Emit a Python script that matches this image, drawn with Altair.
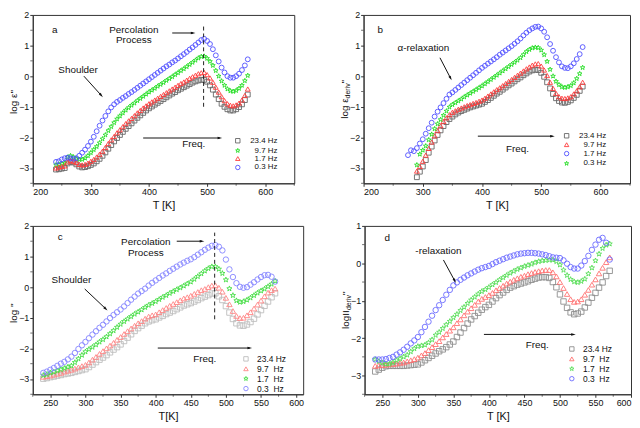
import math
import altair as alt
import pandas as pd

FONT = "Liberation Sans"
STAR = ("M0,-1L0.235,-0.324L0.951,-0.309L0.380,0.124L0.588,0.809L0,0.4"
        "L-0.588,0.809L-0.380,0.124L-0.951,-0.309L-0.235,-0.324Z")
ARROW = "M0,-1L0.55,1L-0.55,1Z"

# ---------------- panel a ----------------
T_a = list(range(240, 575, 5))
a_sq = [-3.05, -3.04, -3.02, -3.00, -2.85, -2.80, -2.82, -2.88, -2.95, -2.98, -2.97, -2.94, -2.90, -2.85, -2.78, -2.70, -2.60, -2.49, -2.37, -2.25, -2.13, -2.02, -1.92, -1.82, -1.72, -1.63, -1.54, -1.45, -1.36, -1.28, -1.20, -1.12, -1.05, -0.99, -0.93, -0.87, -0.81, -0.75, -0.69, -0.63, -0.57, -0.52, -0.46, -0.41, -0.36, -0.31, -0.26, -0.21, -0.17, -0.14, -0.12, -0.12, -0.18, -0.30, -0.44, -0.60, -0.75, -0.90, -1.00, -1.08, -1.12, -1.12, -1.08, -1.01, -0.92, -0.78, -0.60]
a_star = [-2.90, -2.88, -2.86, -2.84, -2.65, -2.60, -2.64, -2.70, -2.72, -2.72, -2.68, -2.60, -2.50, -2.40, -2.30, -2.18, -2.05, -1.92, -1.78, -1.65, -1.52, -1.40, -1.30, -1.20, -1.11, -1.03, -0.95, -0.88, -0.80, -0.73, -0.66, -0.59, -0.52, -0.46, -0.40, -0.33, -0.27, -0.21, -0.14, -0.08, -0.02, 0.05, 0.11, 0.18, 0.24, 0.31, 0.38, 0.45, 0.52, 0.59, 0.64, 0.65, 0.58, 0.48, 0.35, 0.18, 0.00, -0.16, -0.30, -0.42, -0.48, -0.50, -0.47, -0.40, -0.30, -0.15, 0.02]
a_tri = [-3.00, -2.97, -2.95, -2.93, -2.80, -2.75, -2.78, -2.82, -2.88, -2.90, -2.88, -2.84, -2.78, -2.72, -2.64, -2.55, -2.45, -2.33, -2.20, -2.08, -1.97, -1.85, -1.75, -1.65, -1.55, -1.46, -1.38, -1.29, -1.20, -1.12, -1.04, -0.97, -0.90, -0.84, -0.78, -0.72, -0.66, -0.60, -0.54, -0.48, -0.42, -0.36, -0.30, -0.24, -0.19, -0.13, -0.07, -0.02, 0.03, 0.08, 0.11, 0.12, 0.05, -0.06, -0.20, -0.36, -0.52, -0.67, -0.80, -0.90, -0.95, -0.97, -0.94, -0.88, -0.78, -0.63, -0.42]
a_circ = [-2.80, -2.78, -2.72, -2.68, -2.66, -2.68, -2.70, -2.68, -2.60, -2.50, -2.40, -2.28, -2.14, -1.98, -1.80, -1.62, -1.45, -1.30, -1.15, -1.02, -0.92, -0.84, -0.78, -0.71, -0.65, -0.58, -0.52, -0.45, -0.38, -0.31, -0.24, -0.17, -0.10, -0.03, 0.04, 0.11, 0.18, 0.25, 0.32, 0.38, 0.45, 0.51, 0.58, 0.65, 0.72, 0.79, 0.87, 0.94, 1.02, 1.10, 1.18, 1.22, 1.15, 1.05, 0.88, 0.68, 0.48, 0.28, 0.12, 0.00, -0.05, -0.05, 0.00, 0.08, 0.20, 0.35, 0.55]

# ---------------- panel b ----------------
T_b = list(range(275, 575, 5))
N = None
b_sq = [N, N, N, -3.30, -3.12, -2.95, -2.74, -2.50, -2.30, -2.10, -1.92, -1.77, -1.63, -1.50, -1.40, -1.32, -1.25, -1.19, -1.14, -1.10, -1.06, -1.02, -0.99, -0.96, -0.93, -0.90, -0.84, -0.78, -0.71, -0.64, -0.57, -0.51, -0.44, -0.37, -0.30, -0.24, -0.17, -0.10, -0.04, 0.03, 0.09, 0.15, 0.19, 0.21, 0.20, 0.11, -0.02, -0.20, -0.40, -0.58, -0.72, -0.81, -0.86, -0.87, -0.84, -0.79, -0.71, -0.61, -0.48, -0.34]
b_tri = [N, N, N, -3.10, -2.95, -2.78, -2.58, -2.36, -2.15, -1.95, -1.78, -1.62, -1.48, -1.36, -1.26, -1.18, -1.13, -1.08, -1.04, -1.00, -0.96, -0.93, -0.89, -0.86, -0.82, -0.78, -0.72, -0.65, -0.58, -0.51, -0.44, -0.38, -0.31, -0.24, -0.17, -0.11, -0.04, 0.03, 0.10, 0.17, 0.24, 0.30, 0.36, 0.40, 0.41, 0.33, 0.20, 0.02, -0.20, -0.40, -0.56, -0.67, -0.72, -0.73, -0.71, -0.67, -0.58, -0.48, -0.35, -0.20]
b_circ = [-2.58, -2.42, -2.45, -2.35, -2.20, -2.06, -1.88, -1.70, -1.52, -1.32, -1.16, -1.02, -0.88, -0.74, -0.60, -0.53, -0.45, -0.37, -0.29, -0.21, -0.13, -0.05, 0.03, 0.11, 0.19, 0.27, 0.34, 0.41, 0.48, 0.55, 0.62, 0.70, 0.77, 0.84, 0.91, 0.98, 1.06, 1.14, 1.23, 1.33, 1.42, 1.50, 1.56, 1.61, 1.62, 1.56, 1.45, 1.27, 1.05, 0.83, 0.62, 0.45, 0.32, 0.27, 0.26, 0.32, 0.42, 0.56, 0.72, 0.95]
b_star = [N, N, N, -2.90, -2.55, -2.42, -2.28, -2.08, -1.90, -1.72, -1.56, -1.42, -1.28, -1.14, -1.01, -0.93, -0.87, -0.81, -0.75, -0.68, -0.62, -0.56, -0.50, -0.44, -0.38, -0.32, -0.25, -0.18, -0.11, -0.04, 0.03, 0.10, 0.17, 0.24, 0.31, 0.38, 0.45, 0.52, 0.60, 0.70, 0.80, 0.87, 0.92, 0.94, 0.93, 0.85, 0.70, 0.48, 0.22, 0.00, -0.17, -0.28, -0.35, -0.37, -0.35, -0.31, -0.22, -0.08, 0.08, 0.28]

# ---------------- panel c ----------------
T_c = list(range(240, 575, 5))
c_sq = [-2.99, -2.97, -2.94, -2.92, -2.89, -2.87, -2.84, -2.82, -2.80, -2.77, -2.74, -2.71, -2.68, -2.61, -2.53, -2.45, -2.37, -2.30, -2.22, -2.13, -2.04, -1.96, -1.87, -1.76, -1.65, -1.54, -1.43, -1.34, -1.26, -1.18, -1.12, -1.08, -1.05, -0.99, -0.94, -0.88, -0.83, -0.78, -0.72, -0.66, -0.60, -0.56, -0.52, -0.47, -0.42, -0.36, -0.31, -0.26, -0.21, -0.20, -0.30, -0.42, -0.62, -0.83, -1.04, -1.18, -1.25, -1.26, -1.22, -1.14, -1.03, -0.89, -0.75, -0.61, -0.47, -0.33, -0.20]
c_tri = [-2.93, -2.91, -2.89, -2.86, -2.83, -2.80, -2.76, -2.73, -2.70, -2.66, -2.62, -2.58, -2.54, -2.46, -2.37, -2.28, -2.18, -2.09, -2.00, -1.91, -1.82, -1.72, -1.63, -1.53, -1.44, -1.35, -1.26, -1.18, -1.11, -1.03, -0.96, -0.92, -0.89, -0.82, -0.75, -0.68, -0.61, -0.55, -0.49, -0.43, -0.37, -0.33, -0.28, -0.22, -0.16, -0.10, -0.06, 0.00, 0.05, 0.06, -0.02, -0.15, -0.35, -0.56, -0.78, -0.94, -1.01, -1.00, -0.92, -0.82, -0.70, -0.57, -0.44, -0.30, -0.18, -0.10, -0.05]
c_star = [-2.88, -2.85, -2.80, -2.77, -2.73, -2.69, -2.65, -2.61, -2.57, -2.46, -2.34, -2.22, -2.11, -2.03, -1.96, -1.88, -1.79, -1.71, -1.62, -1.52, -1.42, -1.31, -1.21, -1.12, -1.04, -0.96, -0.88, -0.81, -0.74, -0.66, -0.59, -0.53, -0.47, -0.40, -0.33, -0.27, -0.20, -0.14, -0.08, -0.02, 0.04, 0.11, 0.17, 0.26, 0.35, 0.44, 0.53, 0.61, 0.67, 0.67, 0.59, 0.45, 0.24, -0.05, -0.27, -0.44, -0.49, -0.47, -0.42, -0.35, -0.27, -0.19, -0.12, -0.06, 0.02, 0.10, 0.20]
c_circ = [-2.80, -2.76, -2.70, -2.64, -2.57, -2.50, -2.44, -2.36, -2.27, -2.15, -2.02, -1.90, -1.79, -1.67, -1.55, -1.44, -1.33, -1.23, -1.12, -1.01, -0.91, -0.82, -0.73, -0.63, -0.52, -0.41, -0.31, -0.21, -0.13, -0.05, 0.05, 0.14, 0.22, 0.30, 0.38, 0.45, 0.53, 0.60, 0.67, 0.74, 0.80, 0.86, 0.91, 0.98, 1.06, 1.14, 1.22, 1.29, 1.35, 1.37, 1.32, 1.20, 0.90, 0.58, 0.33, 0.13, 0.01, -0.02, 0.00, 0.08, 0.16, 0.25, 0.33, 0.39, 0.40, 0.34, 0.18]

# ---------------- panel d ----------------
T_d = list(range(240, 575, 5))
d_sq = [-2.89, -2.84, -2.79, -2.75, -2.74, -2.74, -2.74, -2.74, -2.74, -2.73, -2.72, -2.71, -2.70, -2.65, -2.59, -2.53, -2.47, -2.41, -2.35, -2.30, -2.24, -2.17, -2.09, -1.97, -1.85, -1.73, -1.61, -1.50, -1.41, -1.32, -1.24, -1.17, -1.11, -1.02, -0.93, -0.85, -0.78, -0.71, -0.65, -0.61, -0.57, -0.54, -0.51, -0.48, -0.44, -0.41, -0.38, -0.37, -0.37, -0.39, -0.50, -0.64, -0.83, -1.02, -1.19, -1.31, -1.36, -1.34, -1.29, -1.18, -1.05, -0.92, -0.79, -0.65, -0.51, -0.34, -0.20]
d_tri = [-2.74, -2.73, -2.72, -2.71, -2.70, -2.69, -2.68, -2.66, -2.65, -2.62, -2.59, -2.56, -2.52, -2.46, -2.40, -2.32, -2.24, -2.16, -2.08, -1.98, -1.89, -1.80, -1.71, -1.60, -1.50, -1.39, -1.29, -1.20, -1.11, -1.02, -0.95, -0.90, -0.85, -0.79, -0.72, -0.66, -0.60, -0.54, -0.49, -0.44, -0.40, -0.36, -0.33, -0.29, -0.26, -0.23, -0.21, -0.19, -0.18, -0.18, -0.24, -0.35, -0.50, -0.66, -0.82, -0.96, -1.03, -1.02, -0.96, -0.84, -0.71, -0.57, -0.43, -0.27, -0.12, 0.03, 0.16]
d_star = [-2.57, -2.62, -2.66, -2.69, -2.69, -2.65, -2.59, -2.55, -2.50, -2.45, -2.36, -2.28, -2.22, -2.20, -2.18, -2.12, -2.04, -1.92, -1.84, -1.74, -1.64, -1.55, -1.45, -1.36, -1.26, -1.17, -1.07, -0.98, -0.90, -0.82, -0.75, -0.70, -0.64, -0.57, -0.51, -0.44, -0.38, -0.32, -0.26, -0.21, -0.16, -0.12, -0.08, -0.05, -0.02, 0.02, 0.05, 0.07, 0.08, 0.09, 0.09, 0.05, -0.04, -0.18, -0.32, -0.43, -0.49, -0.51, -0.48, -0.42, -0.28, -0.12, 0.07, 0.25, 0.40, 0.49, 0.52]
d_circ = [-2.57, -2.57, -2.57, -2.56, -2.53, -2.50, -2.44, -2.38, -2.31, -2.23, -2.14, -2.06, -1.97, -1.84, -1.70, -1.56, -1.40, -1.25, -1.12, -0.98, -0.84, -0.71, -0.59, -0.51, -0.44, -0.38, -0.32, -0.27, -0.22, -0.17, -0.13, -0.10, -0.07, -0.02, 0.03, 0.07, 0.11, 0.15, 0.18, 0.21, 0.24, 0.26, 0.27, 0.28, 0.28, 0.27, 0.26, 0.24, 0.22, 0.19, 0.16, 0.15, 0.14, 0.08, -0.01, -0.10, -0.14, -0.14, -0.06, 0.06, 0.20, 0.36, 0.50, 0.63, 0.68, 0.55, 0.10]

# legend labels (legend order) per panel
leg_a = ["23.4 Hz", "9.7 Hz", "1.7 Hz", "0.3 Hz"]
leg_b = ["23.4 Hz", "9.7 Hz", "1.7 Hz", "0.3 Hz"]
NB = "\u00a0"
leg_cd = ["23.4 Hz", "9.7" + NB * 2 + "Hz", "1.7" + NB * 2 + "Hz", "0.3" + NB * 2 + "Hz"]

# axis tick values (major labelled, minor unlabelled)
xt_ab = [200, 300, 400, 500, 600]
xm_ab = [250, 350, 450, 550, 650]
xt_cd = [250, 300, 350, 400, 450, 500, 550, 600]
xm_c = [225, 275, 325, 375, 425, 475, 525, 575]
xm_d = [225, 275, 325, 375, 425, 475, 525, 575]
yt_abc = [-3, -2, -1, 0, 1, 2]
ym_abc = [-3.5, -2.5, -1.5, -0.5, 0.5, 1.5]
yt_d = [-3, -2, -1, 0, 1]
ym_d = [-3.5, -2.5, -1.5, -0.5, 0.5]


def panel(key, T, series, labels, colors, shapes, xdom, xvals, xminor, ydom, yvals, yminor,
          W, H, leg, xtitle, ytitle, texts, arrows, dashed=None, msize=24):
    fx, fy, ff = "T" + key, "v" + key, "f" + key
    rows = []
    for lab, vals in zip(labels, series):
        assert len(vals) == len(T), (lab, len(vals), len(T))
        for t, v in zip(T, vals):
            if v is not None:
                rows.append({fx: t, fy: v, ff: lab})
    df = pd.DataFrame(rows)
    xs = alt.Scale(domain=xdom, nice=False, zero=False)
    ys = alt.Scale(domain=ydom, nice=False, zero=False)
    xa = alt.Axis(values=xvals, title=xtitle, format="d")
    ya = alt.Axis(values=yvals, title="", format="d")
    legend = alt.Legend(title=None, orient="none", legendX=leg["x"], legendY=leg["y"],
                        labelFontSize=leg.get("fs", 8), symbolSize=20, symbolStrokeWidth=0.9,
                        rowPadding=leg.get("rp", 0), labelAlign=leg.get("align", "left"),
                        labelOffset=leg.get("off", 6), padding=0, labelFont=FONT,
                        labelColor="#111")

    def X(f):
        return alt.X(f + ":Q", scale=xs, axis=xa, title=xtitle)

    def Y(f):
        return alt.Y(f + ":Q", scale=ys, axis=ya, title="")

    pts = alt.Chart(df).mark_point(filled=False, size=msize, strokeWidth=0.9, opacity=1).encode(
        x=X(fx), y=Y(fy),
        color=alt.Color(ff + ":N", scale=alt.Scale(domain=labels, range=colors), legend=legend),
        shape=alt.Shape(ff + ":N", scale=alt.Scale(domain=labels, range=shapes), legend=legend),
    )
    layers = [pts]
    # minor ticks
    layers.append(alt.Chart(pd.DataFrame({fx: xminor})).mark_tick(
        color="#333", thickness=1, size=2.5, orient="vertical").encode(
        x=X(fx), y=alt.value(H + 1.25)))
    layers.append(alt.Chart(pd.DataFrame({fy: yminor})).mark_tick(
        color="#333", thickness=1, size=2.5, orient="horizontal").encode(
        y=Y(fy), x=alt.value(-1.25)))
    if dashed:
        ddf = pd.DataFrame([{fx: dashed[0], fy: dashed[1], "y2": dashed[2]}])
        layers.append(alt.Chart(ddf).mark_rule(color="#222", strokeDash=[4, 3], strokeWidth=1).encode(
            x=X(fx), y=Y(fy), y2="y2:Q"))
    # arrows
    px = W / (xdom[1] - xdom[0])
    py = H / (ydom[1] - ydom[0])
    adf = pd.DataFrame([{fx: a[0], fy: a[1], "x2": a[2], "y2": a[3],
                         "ang": math.degrees(math.atan2((a[2] - a[0]) * px, (a[3] - a[1]) * py)) % 360}
                        for a in arrows])
    layers.append(alt.Chart(adf).mark_rule(color="#111", strokeWidth=1).encode(
        x=X(fx), y=Y(fy), x2="x2:Q", y2="y2:Q"))
    hdf = adf[["x2", "y2", "ang"]].rename(columns={"x2": fx, "y2": fy})
    layers.append(alt.Chart(hdf).mark_point(shape=ARROW, filled=True, color="#111", size=22, opacity=1).encode(
        x=X(fx), y=Y(fy), angle=alt.Angle("ang:Q", scale=None)))
    tdf = pd.DataFrame([{fx: t[0], fy: t[1], "txt": t[2], "fs": t[3]} for t in texts])
    layers.append(alt.Chart(tdf).mark_text(font=FONT, color="#111", baseline="middle").encode(
        x=X(fx), y=Y(fy), text="txt:N", size=alt.Size("fs:Q", scale=None)))
    # rotated y title made of pieces (text, fontsize, advance, sub-shift)
    total = sum(p[2] for p in ytitle)
    off = 0.0
    for txt, fs, adv, sub in ytitle:
        layers.append(alt.Chart(pd.DataFrame({"t": [txt]})).mark_text(
            font=FONT, fontSize=fs, angle=270, align="left", baseline="middle",
            dx=off, dy=sub, color="#111").encode(
            text="t:N", x=alt.value(-19), y=alt.value(H / 2 + total / 2)))
        off += adv
    return alt.layer(*layers).properties(width=W, height=H)


GRAY, GREEN, RED, BLUE = "#666666", "#22dd22", "#ff3b3b", "#4f4fff"
SQ, TRI, CIRC = "square", "triangle-up", "circle"

H = 170
pa = panel("a", T_a, [a_sq, a_star, a_tri, a_circ], leg_a,
           [GRAY, GREEN, RED, BLUE], [SQ, STAR, TRI, CIRC],
           [200, 650], xt_ab, xm_ab, [-3.5, 2], yt_abc, ym_abc, 264, H,
           {"x": 203, "y": 123, "align": "right", "off": 36}, "T [K]",
           [("log ε''", 10, 30, 0)],
           [(238, 1.52, "a", 10), (374, 1.50, "Percolation", 10), (374, 1.18, "Process", 10),
            (278, 0.21, "Shoulder", 10), (477, -2.23, "Freq.", 10)],
           [(440, 1.41, 476, 1.41), (288, 0.0, 318, -0.63), (390, -2.02, 522, -2.02)],
           dashed=(494, -1.0, 1.7))

pb = panel("b", T_b, [b_sq, b_tri, b_circ, b_star], leg_b,
           [GRAY, RED, BLUE, GREEN], [SQ, TRI, CIRC, STAR],
           [200, 650], xt_ab, xm_ab, [-3.5, 2], yt_abc, ym_abc, 269, H,
           {"x": 201, "y": 118, "align": "right", "off": 36}, "T [K]",
           [("log ε", 10, 20.5, 0), ("deriv", 7, 15, 3), ("''", 10, 4, 0)],
           [(228, 1.52, "b", 10), (301, 0.91, "α-relaxation", 10), (460, -2.37, "Freq.", 10)],
           [(329, 0.6, 347, -0.07), (393, -1.96, 519, -1.96)])

GRAY_C, RED_C, GREEN_C, BLUE_C = "#bdbdbd", "#ff8585", "#44dd44", "#8585ff"
pc = panel("c", T_c, [c_sq, c_tri, c_star, c_circ], leg_cd,
           [GRAY_C, RED_C, GREEN_C, BLUE_C], [SQ, TRI, STAR, CIRC],
           [225, 610], xt_cd, xm_c, [-3.5, 2], yt_abc, ym_abc, 273, H,
           {"x": 211, "y": 130, "off": 7, "fs": 8.5, "rp": 1}, "T[K]",
           [("log ''", 10, 26, 0)],
           [(264, 1.63, "c", 10), (386, 1.46, "Percolation", 10), (386, 1.13, "Process", 10),
            (280, 0.22, "Shoulder", 10), (470, -2.35, "Freq.", 10)],
           [(430, 1.5, 466, 1.5), (299, -0.06, 329, -0.71), (403, -1.99, 534, -1.99)],
           dashed=(484, -1.05, 1.78), msize=30)

GRAY_D, RED_D, GREEN_D, BLUE_D = "#8e8e8e", "#ff7070", "#55dd55", "#6a6aff"
pd_ = panel("d", T_d, [d_sq, d_tri, d_star, d_circ], leg_cd,
            [GRAY_D, RED_D, GREEN_D, BLUE_D], [SQ, TRI, STAR, CIRC],
            [225, 600], xt_cd, xm_d, [-3.5, 1], yt_d, ym_d, 269, H,
            {"x": 205, "y": 120, "off": 7, "fs": 8.5, "rp": 1}, "T [K]",
            [("logII", 10, 19, 0), ("deriv", 7, 15, 3), ("''", 10, 4, 0)],
            [(257, 0.68, "d", 10), (329, 0.33, "-relaxation", 10), (468, -2.18, "Freq.", 10)],
            [(336, 0.09, 352, -0.47), (393, -1.9, 519, -1.9)], msize=30)

row1 = alt.hconcat(pa, pb, spacing=44).resolve_scale(color="independent", shape="independent")
row2 = alt.hconcat(pc, pd_, spacing=36).resolve_scale(color="independent", shape="independent")
chart = alt.vconcat(row1, row2, spacing=10).resolve_scale(
    color="independent", shape="independent").properties(padding=0).configure_view(
    stroke="#333", strokeWidth=1).configure_axis(
    grid=False, labelFont=FONT, titleFont=FONT, labelFontSize=9, titleFontSize=11,
    titleFontWeight="normal", labelColor="#111", titleColor="#111", domainColor="#333",
    tickColor="#333", tickSize=3, labelPadding=1, titlePadding=3)

chart.save("out.html", embed_options={"renderer": "svg", "actions": False})
